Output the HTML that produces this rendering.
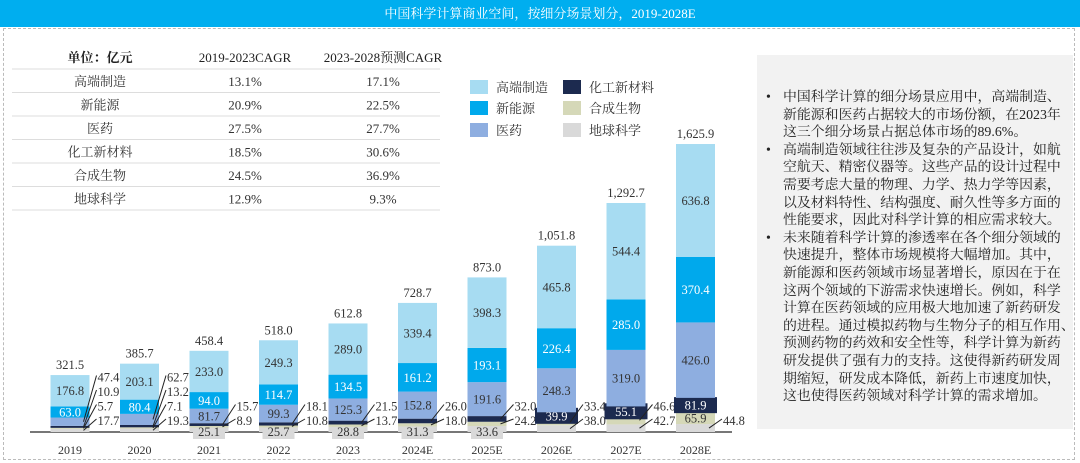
<!DOCTYPE html>
<html><head><meta charset="utf-8">
<style>
body{margin:0;width:1080px;height:463px;overflow:hidden;background:#fff;font-family:"Liberation Serif","Noto Serif CJK SC",serif;}
#title{position:absolute;left:0;top:0;width:1080px;height:27px;background:#00aeef;color:#fff;font-size:13px;line-height:27px;text-align:center;font-family:"Liberation Serif","Noto Serif CJK SC",serif;}
#frame{position:absolute;left:3px;top:28px;width:1070px;height:430px;border:1px dashed #bbb;}
#note{position:absolute;left:757px;top:55px;width:316px;height:374px;background:#f2f2f2;}
#note ul{margin:0;padding:0;list-style:none;position:absolute;left:0;top:34px;width:316px;font-size:13.9px;line-height:17.6px;color:#222;white-space:nowrap;}
#note li{position:relative;padding-left:26px;}
#note li:before{content:"•";position:absolute;left:9px;}
svg{position:absolute;left:0;top:0;}
</style></head><body>
<div id="title">中国科学计算商业空间，按细分场景划分，2019-2028E</div>
<div id="frame"></div>
<div id="note">
<ul>
<li>中国科学计算的细分场景应用中，高端制造、<br>新能源和医药占据较大的市场份额，在2023年<br>这三个细分场景占据总体市场的89.6%。</li>
<li>高端制造领域往往涉及复杂的产品设计，如航<br>空航天、精密仪器等。这些产品的设计过程中<br>需要考虑大量的物理、力学、热力学等因素，<br>以及材料特性、结构强度、耐久性等多方面的<br>性能要求，因此对科学计算的相应需求较大。</li>
<li>未来随着科学计算的渗透率在各个细分领域的<br>快速提升，整体市场规模将大幅增加。其中，<br>新能源和医药领域市场显著增长，原因在于在<br>这两个领域的下游需求快速增长。例如，科学<br>计算在医药领域的应用极大地加速了新药研发<br>的进程。通过模拟药物与生物分子的相互作用、<br>预测药物的药效和安全性等，科学计算为新药<br>研发提供了强有力的支持。这使得新药研发周<br>期缩短，研发成本降低，新药上市速度加快，<br>这也使得医药领域对科学计算的需求增加。</li>
</ul>
</div>
<svg id="chart" width="1080" height="463"></svg>
<script>
const years=["2019","2020","2021","2022","2023","2024E","2025E","2026E","2027E","2028E"];
const hiEnd=[176.8,203.1,233.0,249.3,289.0,339.4,398.3,465.8,544.4,636.8];
const newEnergy=[63.0,80.4,94.0,114.7,134.5,161.2,193.1,226.4,285.0,370.4];
const pharma=[47.4,62.7,81.7,99.3,125.3,152.8,191.6,248.3,319.0,426.0];
const chemMat=[10.9,13.2,15.7,18.1,21.5,26.0,32.0,39.9,55.1,81.9];
const synBio=[5.7,7.1,8.9,10.8,13.7,18.0,24.2,33.4,46.6,65.9];
const earthSci=[17.7,19.3,25.1,25.7,28.8,31.3,33.6,38.0,42.7,44.8];
const totals=["321.5","385.7","458.4","518.0","612.8","728.7","873.0","1,051.8","1,292.7","1,625.9"];
const seriesNames=["地球科学","合成生物","化工新材料","医药","新能源","高端制造"];
const tableRows=[["高端制造","13.1%","17.1%"],["新能源","20.9%","22.5%"],["医药","27.5%","27.7%"],["化工新材料","18.5%","30.6%"],["合成生物","24.5%","36.9%"],["地球科学","12.9%","9.3%"]];

const NS="http://www.w3.org/2000/svg";
const svg=document.getElementById('chart');
function el(t,a,txt){const e=document.createElementNS(NS,t);for(const k in a)e.setAttribute(k,a[k]);if(txt!==undefined)e.textContent=txt;svg.appendChild(e);return e;}
const base=432, k=288/1625.9;
const y=v=>base-v*k;
const xc=i=>70+69.5*i;
const bw=39;
const series=[earthSci,synBio,chemMat,pharma,newEnergy,hiEnd];
const colors=["#d9d9d9","#d5d8b8","#1c2a4f","#8eaee0","#00a9ec","#a7dcf2"];
const keys=["earth","synbio","chem","pharma","newenergy","highend"];
const font='"Liberation Serif","Noto Serif CJK SC",serif';

let t=el('text',{x:100,y:62,'text-anchor':'middle','font-size':13,'font-weight':'bold','font-family':font,fill:'#222'},'单位：亿元');

t=el('text',{x:245,y:62,'text-anchor':'middle','font-size':13,'font-family':font,fill:'#222'},'2019-2023CAGR');

t=el('text',{x:383,y:62,'text-anchor':'middle','font-size':13,'font-family':font,fill:'#222'},'2023-2028预测CAGR');

tableRows.forEach((r,i)=>{
  const ly=69+i*23.5;
  const ln=el('line',{x1:12,x2:440,y1:ly,y2:ly,stroke:'#ddd','stroke-width':1});
  
  [100,245,383].forEach((cx,j)=>{
    const tx=el('text',{x:cx,y:ly+17,'text-anchor':'middle','font-size':13,'font-family':font,fill:'#333'},r[j]);
    
  });
});
const ln2=el('line',{x1:12,x2:440,y1:210,y2:210,stroke:'#ddd','stroke-width':1});


const legOrder=[[5,470,87],[4,470,108],[3,470,130],[2,563,87],[1,563,108],[0,563,130]];
legOrder.forEach(([s,lx,ly])=>{
  const r=el('rect',{x:lx,y:ly-7,width:18,height:14,fill:colors[s]});
  
  const tx=el('text',{x:lx+26,y:ly+5,'font-size':13,'font-family':font,fill:'#333'},seriesNames[s]);
  
});

const ax=el('line',{x1:30,x2:732,y1:base,y2:base,stroke:'#777','stroke-width':2});


years.forEach((yr,i)=>{
  let cum=0;const x0=xc(i)-bw/2;const outside=[];
  series.forEach((arr,s)=>{
    const v=arr[i];const top=y(cum+v),bot=y(cum);
    const r=el('rect',{x:x0,y:top,width:bw,height:bot-top,fill:colors[s]});
    
    const h=bot-top;const mid=(top+bot)/2;
    let inside=false;
    if(s>=4) inside=true;
    else if(s===3) inside=h>=14;
    else if(s===2) inside=v>=39;
    else if(s===1) inside=h>=10;
    if(inside){
      if(s===2){
        const b=el('rect',{x:x0-2,y:mid-8,width:bw+4,height:16,fill:colors[2]});
        
      }
      const tx=el('text',{x:xc(i),y:mid+4.5,'text-anchor':'middle','font-size':12.5,'font-family':font,fill:(s===4||s===2)?'#fff':'#333'},v.toFixed(1));
      
    } else if(s===0 && i>=2 && i<=6){
      const b=el('rect',{x:xc(i)-16,y:base-8,width:32,height:15,fill:'#d9d9d9'});
      
      const tx=el('text',{x:xc(i),y:base+4,'text-anchor':'middle','font-size':12.5,'font-family':font,fill:'#333'},v.toFixed(1));
      
    } else outside.push([s,v,mid]);
    cum+=v;
  });
  outside.sort((a,b)=>a[0]-b[0]);
  outside.forEach((o,j)=>{
    const ly=421-j*14.5;
    const lx=x0+bw+8;
    const tx=el('text',{x:lx,y:ly+4,'font-size':12.5,'font-family':font,fill:'#333'},o[1].toFixed(1));
    
    const l=el('line',{x1:lx-1,y1:ly-2,x2:x0+bw-6,y2:o[2],stroke:'#222','stroke-width':1});
    
  });
  const tt=el('text',{x:xc(i),y:y(cum)-6,'text-anchor':'middle','font-size':12.5,'font-family':font,fill:'#333'},totals[i]);
  
  const yl=el('text',{x:xc(i),y:454,'text-anchor':'middle','font-size':12,'font-family':font,fill:'#333'},yr);
  
});
</script>
</body></html>
